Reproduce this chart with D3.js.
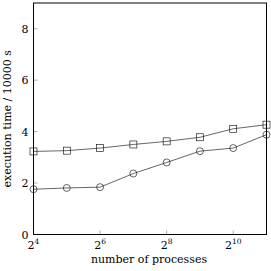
<!DOCTYPE html>
<html><head><meta charset="utf-8">
<script src="https://cdn.jsdelivr.net/npm/d3@7"></script>
<style>body{margin:0;background:#fff}svg{display:block}text{font-family:"DejaVu Serif","Liberation Serif",serif;fill:#000}</style>
</head><body>
<script>
const processes = [16, 32, 64, 128, 256, 512, 1024, 2048];
const seriesSquare = [3.23, 3.26, 3.36, 3.50, 3.62, 3.78, 4.11, 4.27];
const seriesCircle = [1.76, 1.81, 1.84, 2.37, 2.80, 3.24, 3.36, 3.88];
const xTickExps = [4, 6, 8, 10];
const yTicks = [0, 2, 4, 6, 8];

const W = 271, H = 271;
const m = {l: 33.5, r: 266.5, t: 3, b: 234.5};
const svg = d3.select("body").append("svg").attr("width", W).attr("height", H);

const x = d3.scaleLog().base(2).domain([16, 2048]).range([m.l, m.r]);
const y = d3.scaleLinear().domain([0, 9]).range([m.b, m.t]);

// ticks (inside)
const g = svg.append("g");
yTicks.filter(v => v > 0).forEach(v => {
  g.append("line").attr("x1", m.l).attr("x2", m.l + 4).attr("y1", y(v)).attr("y2", y(v))
    .attr("stroke", "#999").attr("stroke-width", 0.8);
});
xTickExps.filter(e => e > 4).forEach(e => {
  g.append("line").attr("x1", x(2 ** e)).attr("x2", x(2 ** e)).attr("y1", m.b).attr("y2", m.b - 4)
    .attr("stroke", "#999").attr("stroke-width", 0.8);
});

// y labels
yTicks.forEach(v => {
  svg.append("text").attr("x", m.l - 5).attr("y", y(v) + 4).attr("text-anchor", "end")
    .attr("font-size", 11).text(v);
});
// x labels
xTickExps.forEach(e => {
  const t = svg.append("text").attr("x", x(2 ** e)).attr("y", 249).attr("text-anchor", "middle").attr("font-size", 11);
  t.append("tspan").text("2");
  t.append("tspan").attr("dy", -5).attr("font-size", 7.5).text(e);
});

// axis labels
svg.append("text").attr("x", (m.l + m.r) / 2 - 1).attr("y", 263).attr("text-anchor", "middle")
  .attr("font-size", 11).text("number of processes");
svg.append("text").attr("transform", `translate(11,${(m.t + m.b) / 2}) rotate(-90)`)
  .attr("text-anchor", "middle").attr("font-size", 11).text("execution time / 10000 s");

const line = d3.line().x(d => x(d[0])).y(d => y(d[1]));
const sq = processes.map((p, i) => [p, seriesSquare[i]]);
const ci = processes.map((p, i) => [p, seriesCircle[i]]);

[sq, ci].forEach(data => {
  svg.append("path").datum(data).attr("d", line).attr("fill", "none").attr("stroke", "#000").attr("stroke-width", 0.6);
});
svg.selectAll("rect.m").data(sq).join("rect").attr("class", "m")
  .attr("x", d => x(d[0]) - 3.5).attr("y", d => y(d[1]) - 3.5).attr("width", 7).attr("height", 7)
  .attr("fill", "none").attr("stroke", "#000").attr("stroke-width", 0.6);
svg.selectAll("circle.m").data(ci).join("circle").attr("class", "m")
  .attr("cx", d => x(d[0])).attr("cy", d => y(d[1])).attr("r", 3.5)
  .attr("fill", "none").attr("stroke", "#000").attr("stroke-width", 0.6);

// frame
svg.append("rect").attr("x", m.l).attr("y", m.t).attr("width", m.r - m.l).attr("height", m.b - m.t)
  .attr("fill", "none").attr("stroke", "#000").attr("stroke-width", 1);
</script>
</body></html>
